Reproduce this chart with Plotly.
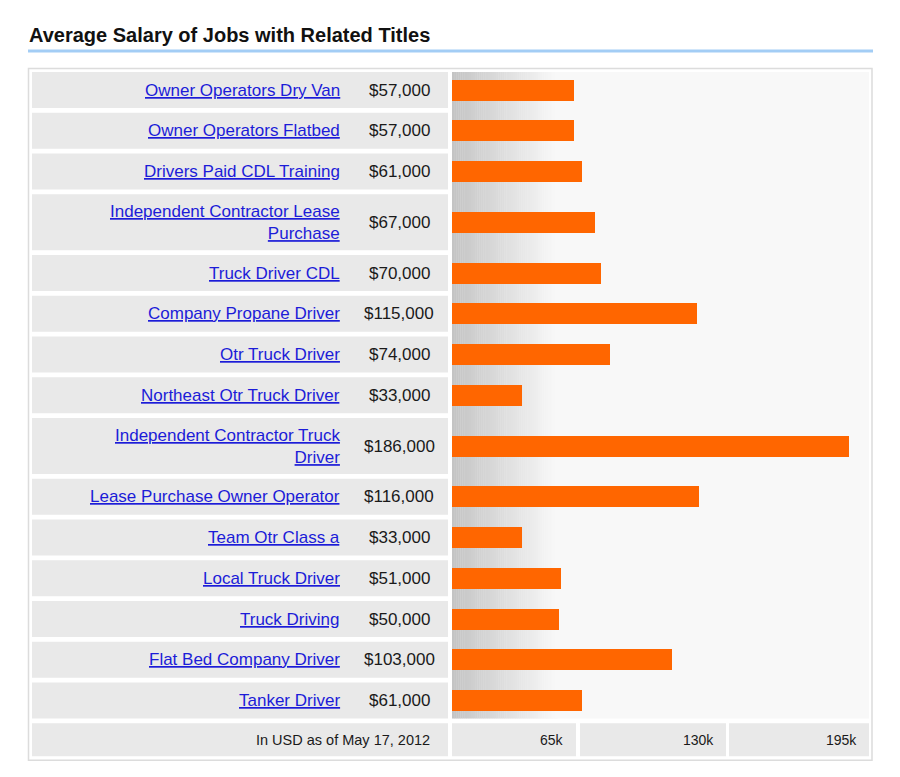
import textwrap
import plotly.graph_objects as go

# ---------------- data ----------------
title = "Average Salary of Jobs with Related Titles"
job_titles = [
    "Owner Operators Dry Van",
    "Owner Operators Flatbed",
    "Drivers Paid CDL Training",
    "Independent Contractor Lease Purchase",
    "Truck Driver CDL",
    "Company Propane Driver",
    "Otr Truck Driver",
    "Northeast Otr Truck Driver",
    "Independent Contractor Truck Driver",
    "Lease Purchase Owner Operator",
    "Team Otr Class a",
    "Local Truck Driver",
    "Truck Driving",
    "Flat Bed Company Driver",
    "Tanker Driver",
]
salaries = [57000, 57000, 61000, 67000, 70000, 115000, 74000, 33000,
            186000, 116000, 33000, 51000, 50000, 103000, 61000]
tick_values = [65000, 130000, 195000]
tick_labels = ["65k", "130k", "195k"]
footnote = "In USD as of May 17, 2012"

# ---------------- layout constants (pixels) ----------------
W, H = 900, 777
FONT = "Liberation Sans, Arial, Helvetica, sans-serif"
LINK = "#1c1cd8"
TEXT = "#1a1a1a"
CELL = "#e9e9e9"
BAR = "#ff6600"

TOP = 72
ROW_H1 = 36
LINE_H = 20
GAP = 4.75
LEFT_X0, LEFT_X1 = 32, 448
BAR_X0, BAR_X1 = 452, 868
LABEL_RIGHT = 342
SAL_CENTER = 399
FOOT_H = 33
FOOT_CELLS = [(452, 576), (580, 726), (729, 869)]


def px(x):
    return x / W


# row geometry computed from wrapped label line counts
wrapped = [textwrap.wrap(t, 30) for t in job_titles]
row_top, row_bot, row_mid = [], [], []
y = TOP
for lines in wrapped:
    h = ROW_H1 + LINE_H * (len(lines) - 1)
    row_top.append(y)
    row_bot.append(y + h)
    row_mid.append(y + h / 2)
    y += h + GAP
foot_top = y
foot_bot = foot_top + FOOT_H
foot_mid = (foot_top + foot_bot) / 2

fig = go.Figure()
fig.add_trace(go.Bar(
    x=salaries, y=row_mid, orientation="h", width=21,
    marker=dict(color=BAR, line=dict(width=0)),
    hoverinfo="skip", showlegend=False,
))

shapes = []
annotations = []

# title + underline
annotations.append(dict(
    text="<b>" + title + "</b>", x=px(26.5), y=35, xref="paper", yref="y",
    xanchor="left", yanchor="middle", showarrow=False,
    font=dict(family=FONT, size=20, color="#111"),
))
shapes.append(dict(type="rect", xref="paper", yref="y", x0=px(28), x1=px(873),
                   y0=49.5, y1=52.5, fillcolor="#a3cdf5", line=dict(width=0), layer="below"))

# outer box
shapes.append(dict(type="rect", xref="paper", yref="y", x0=px(28.5), x1=px(872),
                   y0=68.5, y1=foot_bot + 4, fillcolor="white",
                   line=dict(color="#dcdcdc", width=1.5), layer="below"))

# bar area background
shapes.append(dict(type="rect", xref="paper", yref="y", x0=px(BAR_X0), x1=px(869),
                   y0=TOP, y1=row_bot[-1], fillcolor="#f8f8f8",
                   line=dict(width=0), layer="below"))
# gradient on left of bar area
n_steps = 50
g_w = 105
c0, c1 = 196, 248
for i in range(n_steps):
    c = round(c0 + (c1 - c0) * i / (n_steps - 1))
    shapes.append(dict(type="rect", xref="paper", yref="y",
                       x0=px(BAR_X0 + g_w * i / n_steps),
                       x1=px(BAR_X0 + g_w * (i + 1) / n_steps + 0.3),
                       y0=TOP, y1=row_bot[-1],
                       fillcolor=f"rgb({c},{c},{c})", line=dict(width=0), layer="below"))

# left cells + labels
for lines, t0, t1, mid, sal in zip(wrapped, row_top, row_bot, row_mid, salaries):
    shapes.append(dict(type="rect", xref="paper", yref="y", x0=px(LEFT_X0), x1=px(LEFT_X1),
                       y0=t0, y1=t1, fillcolor=CELL, line=dict(width=0), layer="below"))
    annotations.append(dict(
        text="<br>".join("<u>" + ln + "</u>" for ln in lines),
        x=px(LABEL_RIGHT), y=mid, xref="paper", yref="y",
        xanchor="right", yanchor="middle", align="right", showarrow=False,
        font=dict(family=FONT, size=17, color=LINK),
    ))
    annotations.append(dict(
        text=f"${sal:,}", x=px(SAL_CENTER), y=mid, xref="paper", yref="y",
        xanchor="center", yanchor="middle", showarrow=False,
        font=dict(family=FONT, size=17, color=TEXT),
    ))

# footer
shapes.append(dict(type="rect", xref="paper", yref="y", x0=px(LEFT_X0), x1=px(LEFT_X1),
                   y0=foot_top, y1=foot_bot, fillcolor=CELL, line=dict(width=0), layer="below"))
annotations.append(dict(
    text=footnote, x=px(432), y=foot_mid, xref="paper", yref="y",
    xanchor="right", yanchor="middle", showarrow=False,
    font=dict(family=FONT, size=14.5, color=TEXT),
))
for (a, b), lab in zip(FOOT_CELLS, tick_labels):
    shapes.append(dict(type="rect", xref="paper", yref="y", x0=px(a), x1=px(b),
                       y0=foot_top, y1=foot_bot, fillcolor=CELL, line=dict(width=0), layer="below"))
    annotations.append(dict(
        text=lab, x=px(b - 10), y=foot_mid, xref="paper", yref="y",
        xanchor="right", yanchor="middle", showarrow=False,
        font=dict(family=FONT, size=14, color=TEXT),
    ))

fig.update_layout(
    width=W, height=H, autosize=False,
    margin=dict(l=0, r=0, t=0, b=0, pad=0),
    paper_bgcolor="white", plot_bgcolor="rgba(0,0,0,0)",
    xaxis=dict(domain=[px(BAR_X0), px(BAR_X1)], range=[0, 195000],
               tickvals=tick_values, ticktext=tick_labels,
               showticklabels=False, showgrid=False, zeroline=False, fixedrange=True),
    yaxis=dict(domain=[0, 1], range=[H, 0], showticklabels=False,
               showgrid=False, zeroline=False, fixedrange=True),
    shapes=shapes, annotations=annotations, bargap=0,
)

fig.write_html("out.html", config={"displayModeBar": False},
               post_script="document.body.style.margin='0';")
